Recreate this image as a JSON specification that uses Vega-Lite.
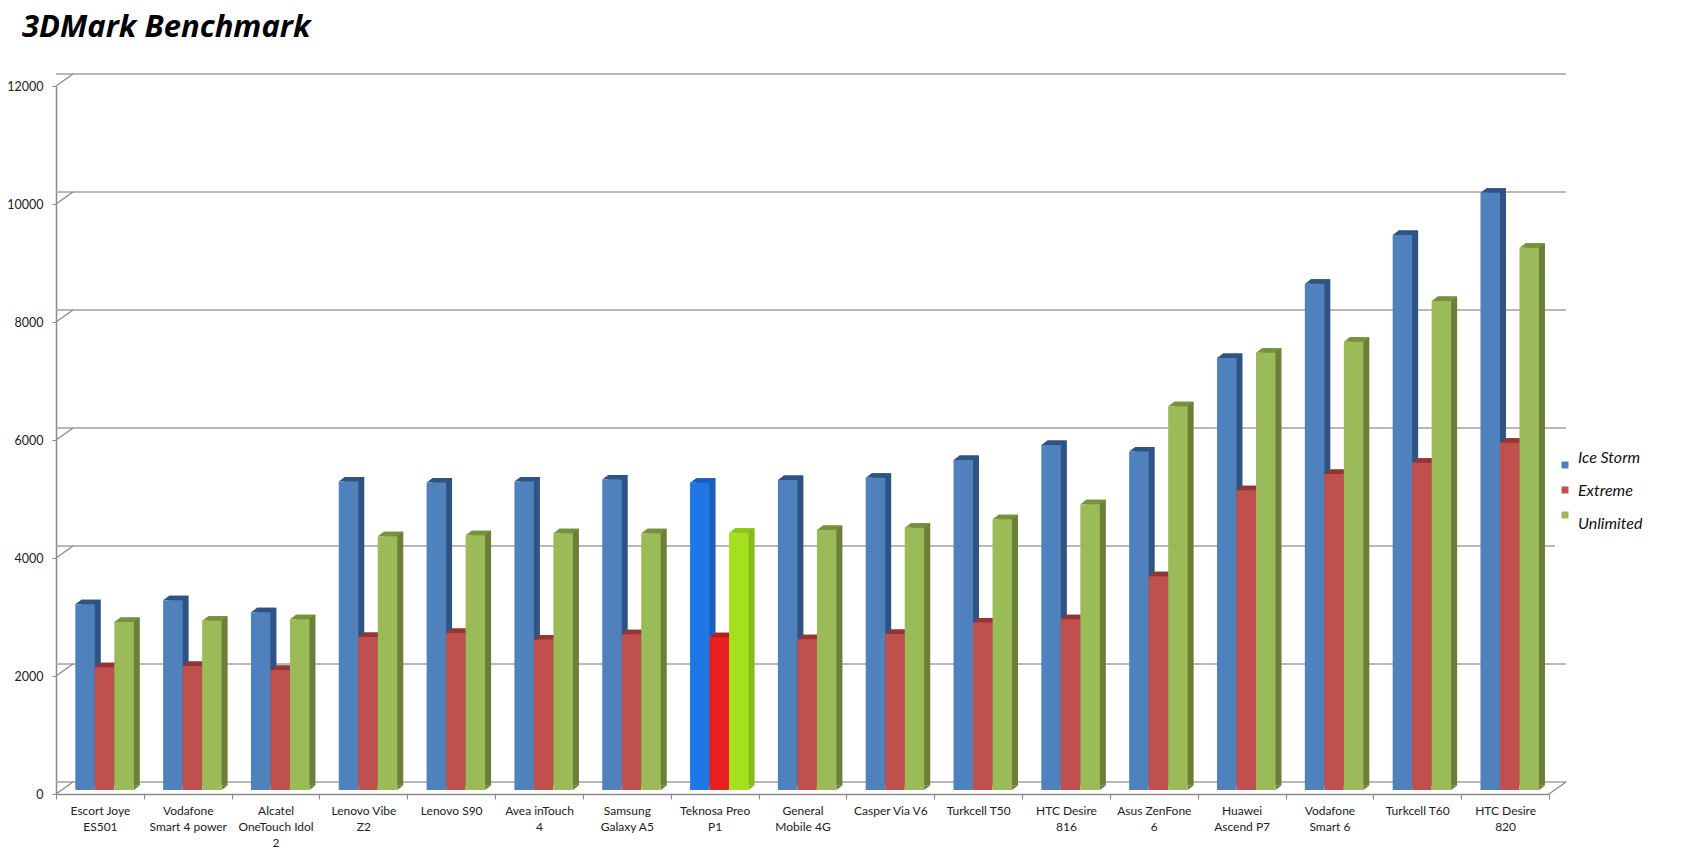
{"$schema":"https://vega.github.io/schema/vega-lite/v6.json","width":1493,"height":708,"autosize":{"type":"none"},"padding":{"left":56,"top":86,"right":136,"bottom":56},"background":"white",
"title":{"text":"3DMark Benchmark","anchor":"start","frame":"group","dx":-34,"dy":0,"offset":28,"font":"Open Sans","fontSize":31,"fontWeight":700,"fontStyle":"italic","color":"#000000"},
"data":{"values":[
{"device":"Escort Joye ES501","series":"Ice Storm","score":3150},{"device":"Escort Joye ES501","series":"Extreme","score":2080},{"device":"Escort Joye ES501","series":"Unlimited","score":2847},
{"device":"Vodafone Smart 4 power","series":"Ice Storm","score":3215},{"device":"Vodafone Smart 4 power","series":"Extreme","score":2100},{"device":"Vodafone Smart 4 power","series":"Unlimited","score":2870},
{"device":"Alcatel OneTouch Idol 2","series":"Ice Storm","score":3013},{"device":"Alcatel OneTouch Idol 2","series":"Extreme","score":2034},{"device":"Alcatel OneTouch Idol 2","series":"Unlimited","score":2896},
{"device":"Lenovo Vibe Z2","series":"Ice Storm","score":5228},{"device":"Lenovo Vibe Z2","series":"Extreme","score":2593},{"device":"Lenovo Vibe Z2","series":"Unlimited","score":4299},
{"device":"Lenovo S90","series":"Ice Storm","score":5210},{"device":"Lenovo S90","series":"Extreme","score":2660},{"device":"Lenovo S90","series":"Unlimited","score":4317},
{"device":"Avea inTouch 4","series":"Ice Storm","score":5228},{"device":"Avea inTouch 4","series":"Extreme","score":2550},{"device":"Avea inTouch 4","series":"Unlimited","score":4353},
{"device":"Samsung Galaxy A5","series":"Ice Storm","score":5264},{"device":"Samsung Galaxy A5","series":"Extreme","score":2641},{"device":"Samsung Galaxy A5","series":"Unlimited","score":4353},
{"device":"Teknosa Preo P1","series":"Ice Storm","score":5208},{"device":"Teknosa Preo P1","series":"Extreme","score":2590},{"device":"Teknosa Preo P1","series":"Unlimited","score":4361},
{"device":"General Mobile 4G","series":"Ice Storm","score":5254},{"device":"General Mobile 4G","series":"Extreme","score":2553},{"device":"General Mobile 4G","series":"Unlimited","score":4407},
{"device":"Casper Via V6","series":"Ice Storm","score":5293},{"device":"Casper Via V6","series":"Extreme","score":2644},{"device":"Casper Via V6","series":"Unlimited","score":4446},
{"device":"Turkcell T50","series":"Ice Storm","score":5592},{"device":"Turkcell T50","series":"Extreme","score":2841},{"device":"Turkcell T50","series":"Unlimited","score":4590},
{"device":"HTC Desire 816","series":"Ice Storm","score":5847},{"device":"HTC Desire 816","series":"Extreme","score":2896},{"device":"HTC Desire 816","series":"Unlimited","score":4845},
{"device":"Asus ZenFone 6","series":"Ice Storm","score":5738},{"device":"Asus ZenFone 6","series":"Extreme","score":3625},{"device":"Asus ZenFone 6","series":"Unlimited","score":6503},
{"device":"Huawei Ascend P7","series":"Ice Storm","score":7322},{"device":"Huawei Ascend P7","series":"Extreme","score":5082},{"device":"Huawei Ascend P7","series":"Unlimited","score":7413},
{"device":"Vodafone Smart 6","series":"Ice Storm","score":8579},{"device":"Vodafone Smart 6","series":"Extreme","score":5355},{"device":"Vodafone Smart 6","series":"Unlimited","score":7596},
{"device":"Turkcell T60","series":"Ice Storm","score":9407},{"device":"Turkcell T60","series":"Extreme","score":5547},{"device":"Turkcell T60","series":"Unlimited","score":8288},
{"device":"HTC Desire 820","series":"Ice Storm","score":10124},{"device":"HTC Desire 820","series":"Extreme","score":5886},{"device":"HTC Desire 820","series":"Unlimited","score":9192}
]},
"datasets":{"grid":[{"level":0},{"level":2000},{"level":4000},{"level":6000},{"level":8000},{"level":10000},{"level":12000}]},
"encoding":{
"x":{"field":"device","type":"nominal","sort":null,"title":null,"scale":{"domain":["Escort Joye ES501","Vodafone Smart 4 power","Alcatel OneTouch Idol 2","Lenovo Vibe Z2","Lenovo S90","Avea inTouch 4","Samsung Galaxy A5","Teknosa Preo P1","General Mobile 4G","Casper Via V6","Turkcell T50","HTC Desire 816","Asus ZenFone 6","Huawei Ascend P7","Vodafone Smart 6","Turkcell T60","HTC Desire 820"],"paddingInner":0,"paddingOuter":0},"axis":{"labelAngle":0,"labelFont":"Lato","labelFontSize":12,"labelColor":"#222222","labelLineHeight":16,"labelPadding":6,"labelLimit":0,"labelOverlap":false,"labelBound":false,"labelBaseline":"top","domainColor":"#8a8a8a","domainWidth":1.5,"tickColor":"#8a8a8a","tickWidth":1,"tickSize":5,"tickBand":"extent","labelExpr":"{'Escort Joye ES501':['Escort Joye','ES501'],'Vodafone Smart 4 power':['Vodafone','Smart 4 power'],'Alcatel OneTouch Idol 2':['Alcatel','OneTouch Idol','2'],'Lenovo Vibe Z2':['Lenovo Vibe','Z2'],'Avea inTouch 4':['Avea inTouch','4'],'Samsung Galaxy A5':['Samsung','Galaxy A5'],'Teknosa Preo P1':['Teknosa Preo','P1'],'General Mobile 4G':['General','Mobile 4G'],'HTC Desire 816':['HTC Desire','816'],'Asus ZenFone 6':['Asus ZenFone','6'],'Huawei Ascend P7':['Huawei','Ascend P7'],'Vodafone Smart 6':['Vodafone','Smart 6'],'HTC Desire 820':['HTC Desire','820']}[datum.label] || datum.label"}},
"y":{"type":"quantitative","scale":{"domain":[0,12000],"nice":false},"title":null}
},
"layer":[
{"data":{"name":"grid"},"mark":{"type":"rule","color":"#a0a0a0","strokeWidth":1.5,"xOffset":17,"x2Offset":17,"yOffset":-12},"encoding":{"x":null,"y":{"field":"level","type":"quantitative","scale":{"domain":[0,12000],"nice":false},"title":null,"axis":{"values":[0,2000,4000,6000,8000,10000,12000],"grid":false,"labelFont":"Lato","labelFontSize":12.5,"labelColor":"#222222","labelPadding":9,"domainColor":"#8a8a8a","domainWidth":1.5,"tickColor":"#8a8a8a","tickWidth":1,"tickSize":4,"format":"d"}}}},
{"data":{"name":"grid"},"transform":[{"filter":"datum.level===4000"}],"mark":{"type":"point","shape":"M6,-12L19,-12","size":4,"filled":false,"stroke":"#ffffff","strokeWidth":3,"opacity":1},"encoding":{"x":{"datum":"HTC Desire 820","bandPosition":1},"y":{"field":"level","type":"quantitative"}}},
{"data":{"name":"grid"},"mark":{"type":"point","shape":"M0,0L17,-12","size":4,"filled":false,"stroke":"#8a8a8a","strokeWidth":1.2,"opacity":1},"encoding":{"x":{"datum":"Escort Joye ES501","bandPosition":0},"y":{"field":"level","type":"quantitative"}}},
{"data":{"name":"grid"},"transform":[{"filter":"datum.level===0"}],"mark":{"type":"point","shape":"M0,0L17,-12","size":4,"filled":false,"stroke":"#8a8a8a","strokeWidth":1.2,"opacity":1},"encoding":{"x":{"datum":"HTC Desire 820","bandPosition":1},"y":{"field":"level","type":"quantitative"}}},
{"mark":{"type":"bar","yOffset":-8.5,"y2Offset":-8.5},"encoding":{"y":{"field":"score","type":"quantitative"},"y2":{"datum":0},"xOffset":{"field":"series","type":"nominal","sort":null,"scale":{"domain":["Ice Storm","Extreme","Unlimited"],"range":[25.3,83.8]}},
"color":{"condition":[{"test":"datum.device==='Teknosa Preo P1'&&datum.series==='Ice Storm'","value":"#1a5fb8"},{"test":"datum.device==='Teknosa Preo P1'&&datum.series==='Extreme'","value":"#b81c1c"},{"test":"datum.device==='Teknosa Preo P1'&&datum.series==='Unlimited'","value":"#86bb18"},{"test":"datum.series==='Ice Storm'","value":"#2f5483"},{"test":"datum.series==='Extreme'","value":"#8f3532"}],"value":"#6b7f38"}}},
{"transform":[{"filter":"datum.series==='Unlimited'"}],"mark":{"type":"point","shape":"M9.75,0L9.75,-4.5L15.75,-4.5Z","size":4,"filled":true,"opacity":1,"yOffset":-4,"strokeWidth":0},"encoding":{"y":{"datum":0,"type":"quantitative"},"xOffset":{"field":"series","type":"nominal","sort":null,"scale":{"domain":["Ice Storm","Extreme","Unlimited"],"range":[19.3,77.8]}},
"color":{"condition":[{"test":"datum.device==='Teknosa Preo P1'","value":"#86bb18"}],"value":"#6b7f38"}}},
{"mark":{"type":"point","shape":"M-9.75,0L-3.75,-4.5L15.75,-4.5L9.75,0Z","size":4,"filled":true,"opacity":1,"yOffset":-4,"strokeWidth":0},"encoding":{"y":{"field":"score","type":"quantitative"},"xOffset":{"field":"series","type":"nominal","sort":null,"scale":{"domain":["Ice Storm","Extreme","Unlimited"],"range":[19.3,77.8]}},
"color":{"condition":[{"test":"datum.device==='Teknosa Preo P1'&&datum.series==='Ice Storm'","value":"#1a5fb8"},{"test":"datum.device==='Teknosa Preo P1'&&datum.series==='Extreme'","value":"#b81c1c"},{"test":"datum.device==='Teknosa Preo P1'&&datum.series==='Unlimited'","value":"#8cc41a"},{"test":"datum.series==='Ice Storm'","value":"#2f5483"},{"test":"datum.series==='Extreme'","value":"#943634"}],"value":"#76923c"}}},
{"mark":{"type":"bar","yOffset":-4,"y2Offset":-4},"encoding":{"y":{"field":"score","type":"quantitative"},"y2":{"datum":0},"xOffset":{"field":"series","type":"nominal","sort":null,"scale":{"domain":["Ice Storm","Extreme","Unlimited"],"range":[19.3,77.8]}},
"color":{"condition":[{"test":"datum.device==='Teknosa Preo P1'&&datum.series==='Ice Storm'","value":"#1f77e6"},{"test":"datum.device==='Teknosa Preo P1'&&datum.series==='Extreme'","value":"#e6211f"},{"test":"datum.device==='Teknosa Preo P1'&&datum.series==='Unlimited'","value":"#a5e01f"}],"field":"series","type":"nominal","sort":null,"scale":{"domain":["Ice Storm","Extreme","Unlimited"],"range":["#4f81bd","#c0504d","#9bbb59"]},
"legend":{"orient":"none","legendX":1495,"legendY":365,"title":null,"padding":6,"gridAlign":"all","symbolType":"square","symbolSize":49,"symbolStrokeWidth":0,"symbolOpacity":1,"rowPadding":0,"labelOffset":5,"labelFont":"Lato","labelFontSize":16,"labelFontStyle":"italic","labelColor":"#111111","encode":{"labels":{"update":{"dy":{"signal":"datum.index===0?-7.5:datum.index===1?0.5:9"}}}}}}}}
],
"resolve":{"scale":{"xOffset":"independent"}},
"config":{"view":{"stroke":null}}
}
